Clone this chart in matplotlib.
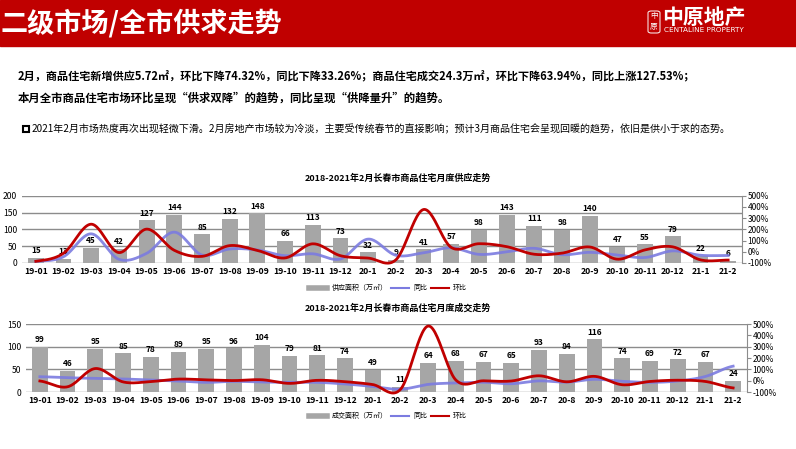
import matplotlib
matplotlib.use('Agg')
import matplotlib.pyplot as plt
import numpy as np
from matplotlib.patches import Rectangle, FancyBboxPatch
from matplotlib.lines import Line2D

plt.rcParams['font.family'] = ['Noto Sans CJK SC', 'DejaVu Sans']

# data
months = ['19-01', '19-02', '19-03', '19-04', '19-05', '19-06', '19-07', '19-08', '19-09',
          '19-10', '19-11', '19-12', '20-1', '20-2', '20-3', '20-4', '20-5', '20-6', '20-7',
          '20-8', '20-9', '20-10', '20-11', '20-12', '21-1', '21-2']

supply = [15, 13, 45, 42, 127, 144, 85, 132, 148, 66, 113, 73, 32, 9, 41, 57, 98, 143,
          111, 98, 140, 47, 55, 79, 22, 6]
supply_yoy = [-85, -44, 160, -67, -14, 175, -29, 25, 16, -35, -18, -64, 113, -31, -9, 36,
              -23, -1, 31, -26, -5, -29, -51, 8, -31, -33]
supply_mom = [-85, -13, 246, -7, 202, 13, -41, 55, 12, -55, 71, -35, -56, -72, 377, 39,
              72, 46, -22, -12, 43, -66, 17, 44, -72, -74]

deal = [99, 46, 95, 85, 78, 89, 95, 96, 104, 79, 81, 74, 49, 11, 64, 68, 67, 65, 93, 84,
        116, 74, 69, 72, 67, 24]
deal_yoy = [35, 26, 20, 15, 6, -3, -15, -6, -12, -15, -15, -29, -51, -76, -33, -20, -14,
            -27, -2, -13, 12, -6, -15, -3, 37, 128]
deal_mom = [-3, -54, 107, -11, -8, 14, 7, 1, 8, -24, 3, -9, -34, -78, 482, 6, -1, -3, 43,
            -10, 38, -36, -7, 4, -7, -64]

RED = '#c00000'
BLUE = '#7b7be0'
GRAY = '#a6a6a6'
GRID = '#8c8c8c'


def smooth(y, n=24):
    # catmull-rom, close to excel's smoothed line
    y = np.asarray(y, float)
    xs, ys = [], []
    for i in range(len(y) - 1):
        p0 = y[i - 1] if i > 0 else y[i]
        p1, p2 = y[i], y[i + 1]
        p3 = y[i + 2] if i + 2 < len(y) else y[i + 1]
        t = np.linspace(0, 1, n, endpoint=False)
        ys.append(0.5 * (2 * p1 + (-p0 + p2) * t + (2 * p0 - 5 * p1 + 4 * p2 - p3) * t ** 2
                         + (-p0 + 3 * p1 - 3 * p2 + p3) * t ** 3))
        xs.append(i + t)
    xs.append([len(y) - 1])
    ys.append([y[-1]])
    return np.concatenate(xs), np.concatenate(ys)


W, H = 796, 449
fig = plt.figure(figsize=(W / 100, H / 100), dpi=100)


def fx(px):
    return px / W


def fy(py):
    return 1 - py / H


# header band
fig.patches.append(Rectangle((0, fy(46)), 1, 46 / H, transform=fig.transFigure,
                             color=RED, zorder=0))
fig.text(fx(1), fy(23), '二级市场/全市供求走势', color='white', fontsize=19.5,
         fontweight='bold', va='center', ha='left')
# logo
fig.patches.append(FancyBboxPatch((fx(648), fy(33)), 12 / W, 22 / H,
                                  boxstyle='round,pad=0,rounding_size=0.004',
                                  transform=fig.transFigure, fill=False, ec='white', lw=0.7))
fig.text(fx(654), fy(16), '中', color='white', fontsize=5.5, ha='center', va='center')
fig.text(fx(654), fy(27), '原', color='white', fontsize=5.5, ha='center', va='center')
fig.text(fx(662), fy(17), '中原地产', color='white', fontsize=15, fontweight='bold',
         ha='left', va='center')
fig.text(fx(664), fy(30), 'CENTALINE PROPERTY', color='white', fontsize=5.2,
         ha='left', va='center', family='DejaVu Sans')

# summary text
fig.text(fx(18), fy(77), '2月，商品住宅新增供应5.72㎡，环比下降74.32%，同比下降33.26%；'
         '商品住宅成交24.3万㎡，环比下降63.94%，同比上涨127.53%；',
         fontsize=8.0, fontweight='bold', ha='left', va='center')
fig.text(fx(18), fy(98), '本月全市商品住宅市场环比呈现“供求双降”的趋势，同比呈现“供降量升”的趋势。',
         fontsize=8.2, fontweight='bold', ha='left', va='center')
fig.patches.append(Rectangle((fx(23), fy(132)), 6 / W, 6 / H, transform=fig.transFigure,
                             fill=False, ec='black', lw=1.5))
fig.text(fx(32), fy(129), '2021年2月市场热度再次出现轻微下滑。2月房地产市场较为冷淡，主要受传统春节的直接影响；'
         '预计3月商品住宅会呈现回暖的趋势，依旧是供小于求的态势。',
         fontsize=7.2, ha='left', va='center')


def draw_panel(rect, bars, yoy, mom, ymax, ystep, title, title_y, bar_name, legend_y):
    ax = fig.add_axes(rect)
    x = np.arange(len(months))
    ax.bar(x, bars, width=0.57, color=GRAY, zorder=2)
    for xi, v in zip(x, bars):
        ax.text(xi, v + ymax * 0.04, str(v), ha='center', va='bottom', fontsize=6,
                fontweight='bold', zorder=3)
    ax.set_xlim(-0.5, len(months) - 0.5)
    ax.set_ylim(0, ymax)
    ax.set_yticks(np.arange(0, ymax + 1, ystep))
    ax.yaxis.grid(True, color=GRID, lw=1)
    ax.set_axisbelow(True)
    ax.set_xticks(x)
    ax.set_xticklabels(months, fontsize=6.2, fontweight='bold')
    ax.tick_params(axis='both', length=0, labelsize=6.2)
    ax.tick_params(axis='x', pad=3)
    for s in ax.spines.values():
        s.set_visible(False)

    ax2 = ax.twinx()
    ax2.set_ylim(-100, 500)
    ax2.set_yticks(np.arange(-100, 501, 100))
    ax2.set_yticklabels([f'{v}%' for v in range(-100, 501, 100)])
    ax2.tick_params(axis='y', length=3, color=GRID, labelsize=6, pad=1)
    for k, s in ax2.spines.items():
        s.set_visible(k == 'right')
    ax2.spines['right'].set_color(GRID)
    sx, sy = smooth(yoy)
    ax2.plot(sx, sy, color=BLUE, lw=2, alpha=0.9, clip_on=False)
    sx, sy = smooth(mom)
    ax2.plot(sx, sy, color=RED, lw=2, clip_on=False)

    fig.text(0.5, fy(title_y), title, ha='center', va='center', fontsize=6.5,
             fontweight='bold')
    handles = [Line2D([], [], color=GRAY, lw=4), Line2D([], [], color=BLUE, lw=1.5),
               Line2D([], [], color=RED, lw=1.5)]
    fig.legend(handles, [bar_name, '同比', '环比'], loc='center',
               bbox_to_anchor=(fx(388), fy(legend_y)), ncol=3, frameon=False,
               fontsize=5, handlelength=2.6, handletextpad=0.6, columnspacing=0.5)


draw_panel([fx(22), fy(263), fx(742) - fx(22), (263 - 195.7) / H], supply, supply_yoy,
           supply_mom, 200, 50, '2018-2021年2月长春市商品住宅月度供应走势', 178,
           '供应面积（万㎡）', 288)
draw_panel([fx(26), fy(392), fx(747) - fx(26), (392 - 324) / H], deal, deal_yoy,
           deal_mom, 150, 50, '2018-2021年2月长春市商品住宅月度成交走势', 308,
           '成交面积（万㎡）', 416)

fig.savefig('out.png', dpi=100)
